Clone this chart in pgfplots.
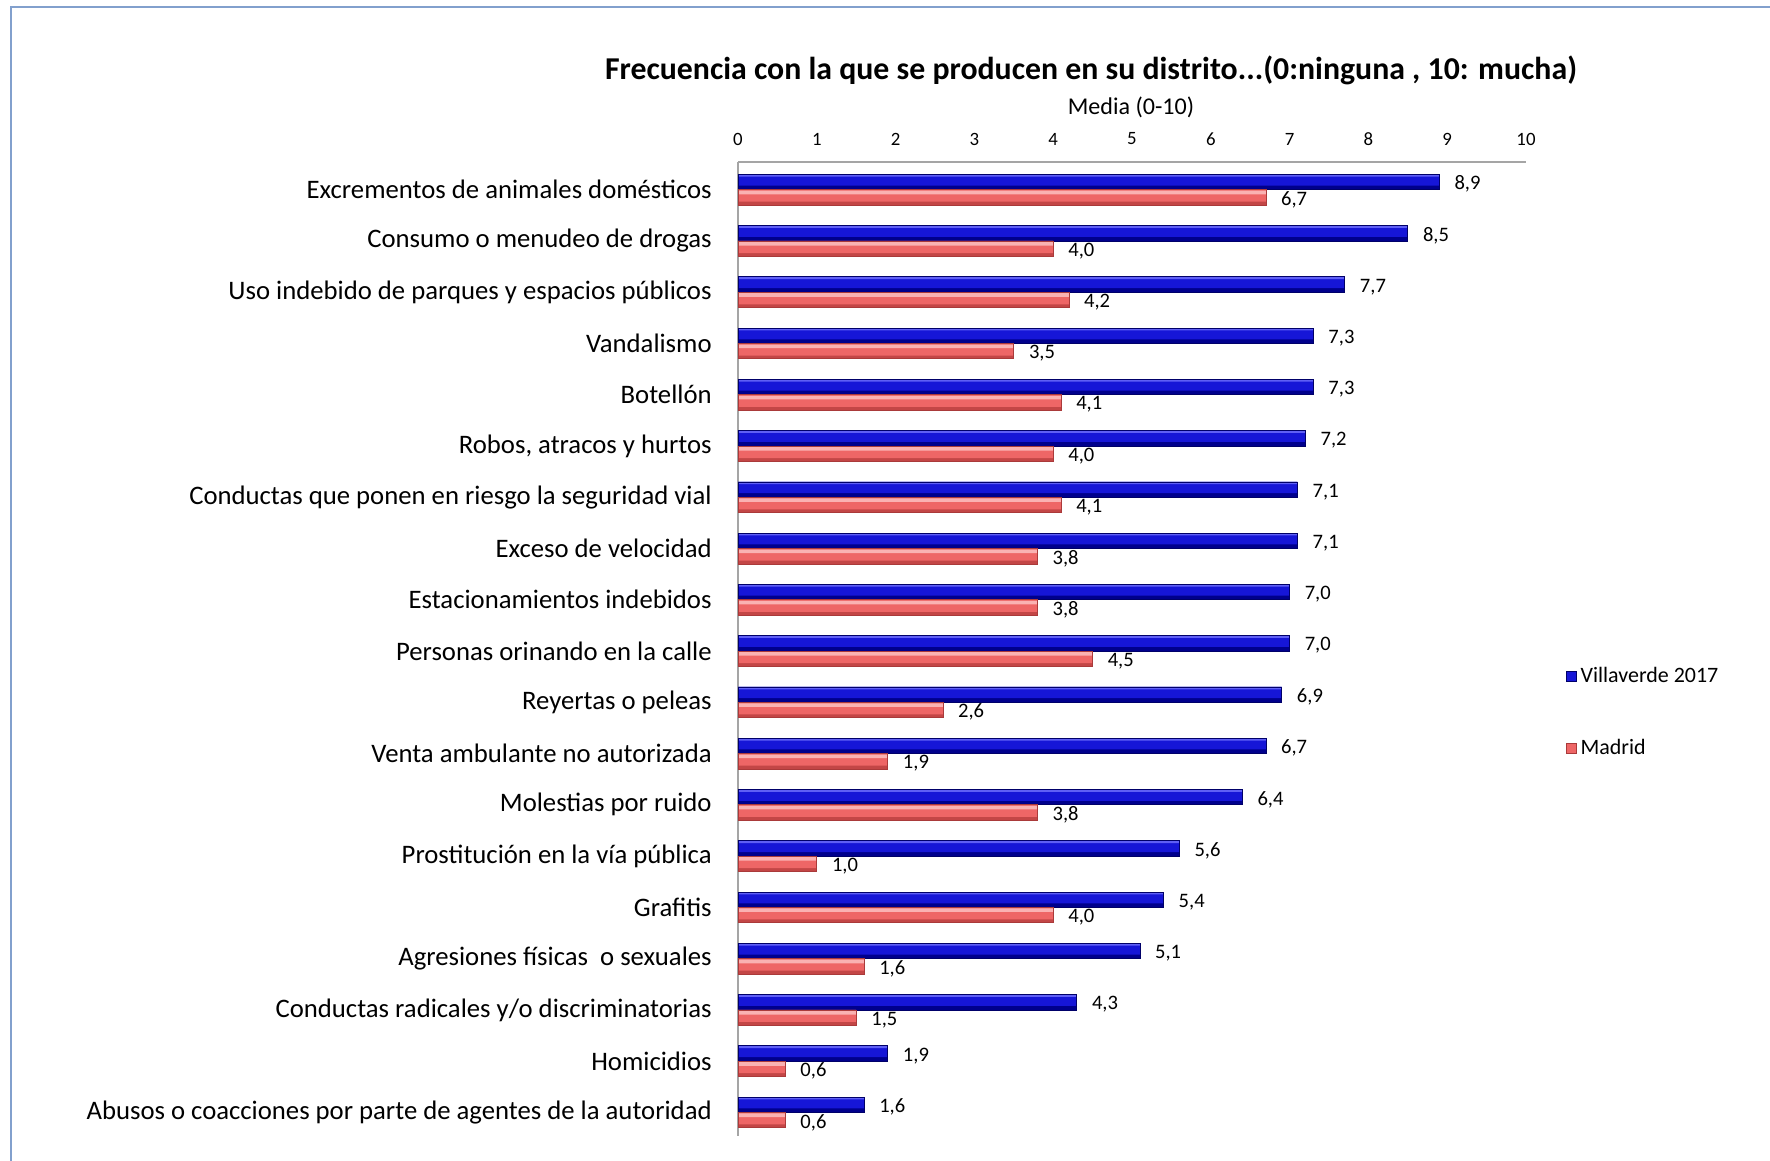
\documentclass[border=0pt]{standalone}
\usepackage{fontspec}
\setmainfont{Carlito}
\usepackage{pgfplots}
\usepackage{pgfplotstable}
\pgfplotsset{compat=1.18}
\definecolor{bordercol}{RGB}{130,160,205}
\definecolor{axiscol}{RGB}{165,165,165}
\definecolor{bluetop}{RGB}{95,95,245}
\definecolor{bluemid}{RGB}{22,22,215}
\definecolor{bluebot}{RGB}{0,0,140}
\definecolor{blueedge}{RGB}{0,0,105}
\definecolor{redtop}{RGB}{250,178,178}
\definecolor{redmid}{RGB}{238,102,102}
\definecolor{redbot}{RGB}{195,70,70}
\definecolor{rededge}{RGB}{170,58,58}
\pgfplotstableread{
x y
8.9 0
8.5 1
7.7 2
7.3 3
7.3 4
7.2 5
7.1 6
7.1 7
7.0 8
7.0 9
6.9 10
6.7 11
6.4 12
5.6 13
5.4 14
5.1 15
4.3 16
1.9 17
1.6 18
}\villaverde
\pgfplotstableread{
x y
6.7 0
4.0 1
4.2 2
3.5 3
4.1 4
4.0 5
4.1 6
3.8 7
3.8 8
4.5 9
2.6 10
1.9 11
3.8 12
1.0 13
4.0 14
1.6 15
1.5 16
0.6 17
0.6 18
}\madrid
\begin{document}
\begin{tikzpicture}
\path[use as bounding box] (0,0) rectangle (354mm,-232.2mm);
\draw[bordercol, line width=0.45mm] (2.2mm,-232.2mm) -- (2.2mm,-1.46mm) -- (354mm,-1.46mm);
\node[font=\bfseries\fontsize{18.1}{21}\selectfont] at (218.2mm,-14mm) {Frecuencia con la que se producen en su distrito...(0:ninguna , 10: mucha)};
\node[font=\fontsize{13.7}{16}\selectfont] at (226.2mm,-21.4mm) {Media (0-10)};
\begin{axis}[
  at={(147.6mm,-32.4mm)}, anchor=north west,
  scale only axis, width=157.6mm, height=194.8mm,
  xbar, y dir=reverse,
  xmin=0, xmax=10, ymin=-0.54, ymax=18.46,
  xtick={0,...,10}, ytick={0,...,18},
  xticklabel={\pgfmathprintnumber[assume math mode=true]{\tick}},
  yticklabels={Excrementos de animales domésticos, Consumo o menudeo de drogas, Uso indebido de parques y espacios públicos, Vandalismo, Botellón, {Robos, atracos y hurtos}, Conductas que ponen en riesgo la seguridad vial, Exceso de velocidad, Estacionamientos indebidos, Personas orinando en la calle, Reyertas o peleas, Venta ambulante no autorizada, Molestias por ruido, Prostitución en la vía pública, Grafitis, Agresiones físicas\ \ o sexuales, Conductas radicales y/o discriminatorias, Homicidios, Abusos o coacciones por parte de agentes de la autoridad},
  axis x line*=top, axis y line*=left,
  axis line style={axiscol, line width=0.3mm},
  major tick length=0,
  xticklabel style={font=\fontsize{10.7}{12}\selectfont, anchor=center, inner sep=0pt, yshift=4.6mm},
  yticklabel style={font=\fontsize{15.2}{18}\selectfont, anchor=east, inner sep=0pt, xshift=-5.2mm},
  every node near coord/.append style={font=\fontsize{11.7}{14}\selectfont, text=black, anchor=west, xshift=1.8mm, yshift=-0.45mm, draw=none, fill=none},
  legend style={at={(1.0508,0.4347)}, anchor=west, draw=none, fill=none, inner sep=0pt, row sep=9.4mm, font=\fontsize{12.5}{15}\selectfont, cells={anchor=west}},
  legend image code/.code={\draw[#1] (0mm,-1mm) rectangle (2mm,1mm);},
  clip=false,
]
\addlegendimage{fill=bluemid, draw=blueedge, line width=0.15mm}
\addlegendentry{Villaverde 2017}
\addlegendimage{fill=redmid, draw=rededge, line width=0.15mm}
\addlegendentry{Madrid}
% Villaverde 2017 (blue), layered to imitate the bevel
\addplot[xbar, forget plot, bar width=0.3, bar shift=-0.15, fill=bluebot, draw=none] table[x=x,y=y] {\villaverde};
\addplot[xbar, forget plot, bar width=0.22, bar shift=-0.19, fill=bluemid, draw=none] table[x=x,y=y] {\villaverde};
\addplot[xbar, forget plot, bar width=0.045, bar shift=-0.2775, fill=bluetop, draw=none] table[x=x,y=y] {\villaverde};
\addplot[xbar, forget plot, bar width=0.3, bar shift=-0.15, fill=none, draw=blueedge, line width=0.15mm] table[x=x,y=y] {\villaverde};
% Madrid (red)
\addplot[xbar, forget plot, bar width=0.3, bar shift=0.15, fill=redbot, draw=none] table[x=x,y=y] {\madrid};
\addplot[xbar, forget plot, bar width=0.235, bar shift=0.1175, fill=redmid, draw=none] table[x=x,y=y] {\madrid};
\addplot[xbar, forget plot, bar width=0.07, bar shift=0.055, fill=redtop, draw=none] table[x=x,y=y] {\madrid};
\addplot[xbar, forget plot, bar width=0.3, bar shift=0.15, fill=none, draw=rededge, line width=0.15mm] table[x=x,y=y] {\madrid};
% value labels
\addplot[xbar, forget plot, bar width=0.3, bar shift=-0.15, fill=none, draw=none,
  nodes near coords={\pgfmathprintnumber[fixed,fixed zerofill,precision=1,use comma,assume math mode=true]{\pgfplotspointmeta}}] table[x=x,y=y] {\villaverde};
\addplot[xbar, forget plot, bar width=0.3, bar shift=0.15, fill=none, draw=none,
  nodes near coords={\pgfmathprintnumber[fixed,fixed zerofill,precision=1,use comma,assume math mode=true]{\pgfplotspointmeta}}] table[x=x,y=y] {\madrid};
\end{axis}
\end{tikzpicture}
\end{document}
